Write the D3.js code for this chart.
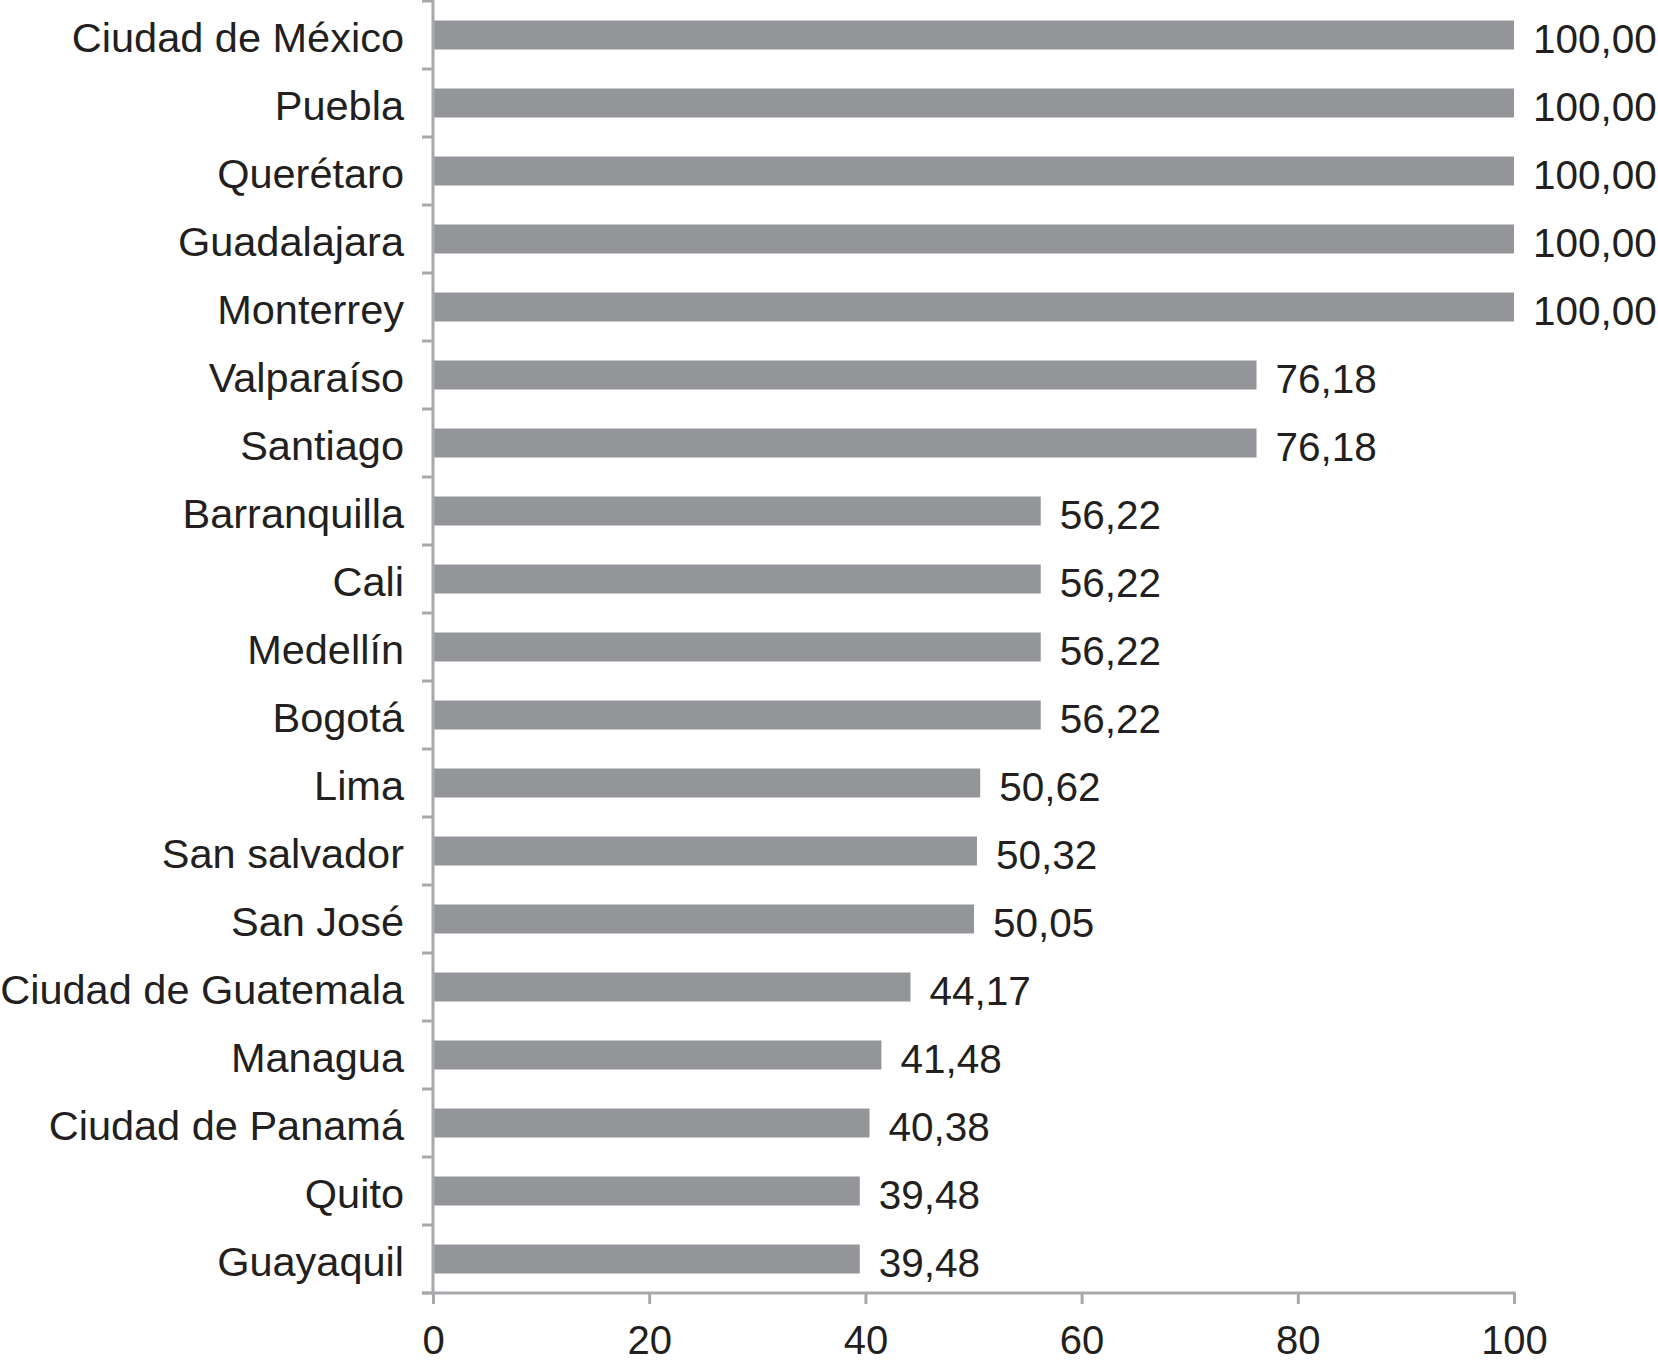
<!DOCTYPE html>
<html>
<head>
<meta charset="utf-8">
<script src="https://cdn.jsdelivr.net/npm/d3@7"></script>
<style>
  body { margin: 0; background: #fff; }
  text { font-family: "Liberation Sans", Arial, Helvetica, sans-serif; fill: #231f20; }
</style>
</head>
<body>
<div id="chart"></div>
<script>
// chart data
var cities = ["Ciudad de México", "Puebla", "Querétaro", "Guadalajara", "Monterrey",
  "Valparaíso", "Santiago", "Barranquilla", "Cali", "Medellín", "Bogotá", "Lima",
  "San salvador", "San José", "Ciudad de Guatemala", "Managua", "Ciudad de Panamá",
  "Quito", "Guayaquil"];
var values = [100, 100, 100, 100, 100, 76.18, 76.18, 56.22, 56.22, 56.22, 56.22, 50.62,
  50.32, 50.05, 44.17, 41.48, 40.38, 39.48, 39.48];
var xTicks = [0, 20, 40, 60, 80, 100];

var svgWidth = 1658;
var svgHeight = 1362;
var margin = {top: 1, left: 433};
var axisY = 1293;
var axisColor = "#a7a9ac";

var svg = d3.select("#chart").append("svg")
  .attr("width", svgWidth).attr("height", svgHeight);

var data = cities.map(function(c, i) { return {city: c, value: values[i]}; });

// scales
var x = d3.scaleLinear().domain([0, 100]).range([margin.left, 1514]);
var pad = 0.574;
var y = d3.scaleBand().domain(cities).range([margin.top, axisY])
  .paddingInner(pad).paddingOuter(pad / 2);

var fmt = d3.format(".2f");

// bars
svg.selectAll("rect.bar")
  .data(data)
  .enter()
  .append("rect")
  .attr("class", "bar")
  .attr("x", x(0))
  .attr("y", d => y(d.city))
  .attr("width", d => x(d.value) - x(0))
  .attr("height", y.bandwidth())
  .attr("fill", "#939598");

// value labels
svg.selectAll("text.val")
  .data(data)
  .enter()
  .append("text")
  .attr("class", "val")
  .attr("x", d => x(d.value) + 19)
  .attr("y", d => y(d.city) + y.bandwidth() / 2)
  .attr("dy", "0.44em")
  .attr("font-size", 40.5)
  .text(d => fmt(d.value).replace(".", ","));

// y axis: labels only, boundary ticks drawn separately
var yAxis = svg.append("g")
  .attr("transform", `translate(${x(0)},0)`)
  .call(d3.axisLeft(y).tickSize(0).tickPadding(29));
yAxis.select(".domain").remove();
yAxis.selectAll("text").attr("font-size", 41.5).attr("fill", "#231f20")
  .attr("dy", "0.4em")
  .attr("font-family", "'Liberation Sans', Arial, sans-serif");

var bounds = d3.range(cities.length + 1).map(i => y.range()[0] + i * y.step());
svg.selectAll("line.ytick")
  .data(bounds)
  .enter()
  .append("line")
  .attr("class", "ytick")
  .attr("x1", x(0) - 11).attr("x2", x(0))
  .attr("y1", d => d).attr("y2", d => d)
  .attr("stroke", axisColor).attr("stroke-width", 3);

svg.append("line")
  .attr("x1", x(0)).attr("x2", x(0))
  .attr("y1", 0).attr("y2", axisY)
  .attr("stroke", axisColor).attr("stroke-width", 3);

// x axis
var xAxis = svg.append("g")
  .attr("transform", `translate(0,${axisY})`)
  .call(d3.axisBottom(x).tickValues(xTicks).tickSize(11).tickSizeOuter(0).tickPadding(22));
xAxis.select(".domain").remove();
xAxis.selectAll(".tick line").attr("stroke", axisColor).attr("stroke-width", 3);
xAxis.selectAll("text").attr("font-size", 40).attr("fill", "#231f20")
  .attr("font-family", "'Liberation Sans', Arial, sans-serif");

svg.append("line")
  .attr("x1", x(0) - 11).attr("x2", x(100) + 1.5)
  .attr("y1", axisY).attr("y2", axisY)
  .attr("stroke", axisColor).attr("stroke-width", 3);
</script>
</body>
</html>
